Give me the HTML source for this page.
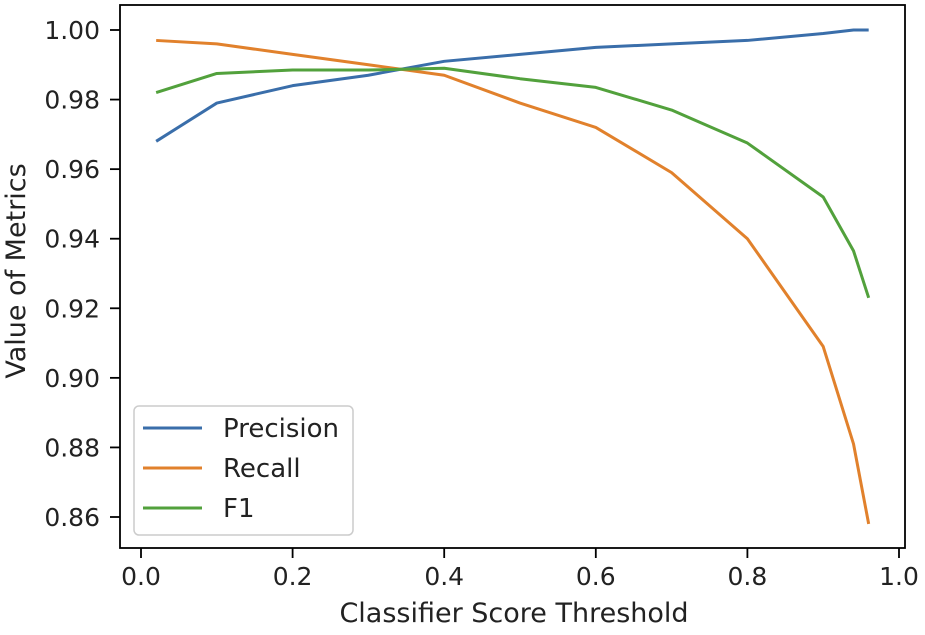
<!DOCTYPE html>
<html><head><meta charset="utf-8"><style>
body{margin:0;background:#fff;}
text{font-family:"DejaVu Sans","Liberation Sans",sans-serif;fill:#222;}
</style></head><body>
<svg id="chart" width="925" height="630">
<g id="g"></g>
</svg>
<script>
const xs=[0.02,0.1,0.2,0.3,0.4,0.5,0.6,0.7,0.8,0.9,0.94,0.96];
const precision=[0.968,0.979,0.984,0.987,0.991,0.993,0.995,0.996,0.997,0.999,1.000,1.000];
const recall=[0.997,0.996,0.993,0.990,0.987,0.979,0.972,0.959,0.940,0.909,0.881,0.858];
const f1=[0.982,0.9875,0.9885,0.9885,0.989,0.986,0.9835,0.977,0.9675,0.952,0.9365,0.923];
const xTicks=["0.0","0.2","0.4","0.6","0.8","1.0"];
const xTickVals=[0,0.2,0.4,0.6,0.8,1.0];
const yTickVals=[0.86,0.88,0.90,0.92,0.94,0.96,0.98,1.00];
const yTicks=["0.86","0.88","0.90","0.92","0.94","0.96","0.98","1.00"];
const L=120,R=905,T=5,B=548;
const sx=v=>141+v*758;
const sy=v=>30+(1.00-v)/0.14*487;
const g=document.getElementById('g');
const NS='http://www.w3.org/2000/svg';
function mk(t,a,txt){const e=document.createElementNS(NS,t);for(const k in a)e.setAttribute(k,a[k]);if(txt!==undefined)e.textContent=txt;g.appendChild(e);return e;}
const series=[[precision,'#3a6eaa','precision'],[recall,'#e1812c','recall'],[f1,'#52a13c','f1']];
series.forEach(([d,c,n])=>{
 const p=mk('polyline',{points:xs.map((x,i)=>sx(x)+','+sy(d[i])).join(' '),fill:'none',stroke:c,'stroke-width':3,'stroke-linejoin':'round'});
 
 
});
const fr=mk('rect',{x:L,y:T,width:R-L,height:B-T,fill:'none',stroke:'#000','stroke-width':1.8});


xTickVals.forEach((v,i)=>{
 mk('line',{x1:sx(v),x2:sx(v),y1:B,y2:B+10,stroke:'#000','stroke-width':1.8});
 const t=mk('text',{x:sx(v),y:585,'text-anchor':'middle','font-size':25},xTicks[i]);
 
 
});
yTickVals.forEach((v,i)=>{
 mk('line',{x1:L-10,x2:L,y1:sy(v),y2:sy(v),stroke:'#000','stroke-width':1.8});
 const t=mk('text',{x:L-20,y:sy(v)+9,'text-anchor':'end','font-size':25},yTicks[i]);
 
 
});
const xt=mk('text',{x:514,y:622,'text-anchor':'middle','font-size':27},'Classifier Score Threshold');


const yt=mk('text',{x:0,y:0,'text-anchor':'middle','font-size':27,transform:'translate(25,271) rotate(-90)'},'Value of Metrics');


const lg=mk('rect',{x:134,y:406,width:219,height:129,rx:5,fill:'#fff',stroke:'#ccc','stroke-width':1.5});


[['Precision','#3a6eaa'],['Recall','#e1812c'],['F1','#52a13c']].forEach(([n,c],i)=>{
 const y=428+i*40;
 mk('line',{x1:143,x2:202,y1:y,y2:y,stroke:c,'stroke-width':3});
 const t=mk('text',{x:223,y:y+9,'font-size':26},n);
 
 
});
</script>
</body></html>
